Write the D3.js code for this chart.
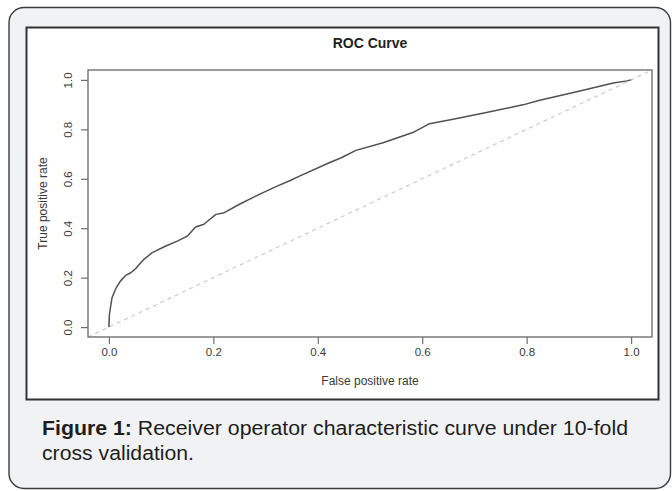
<!DOCTYPE html>
<html>
<head>
<meta charset="utf-8">
<script src="https://cdn.jsdelivr.net/npm/d3@7"></script>
<style>
  html, body { margin: 0; padding: 0; background: #ffffff; }
  svg { display: block; }
</style>
</head>
<body>
<svg id="chart" width="672" height="491"></svg>
<script>
// ---- data ----
const fpr = [0.000, 0.001, 0.006, 0.014, 0.022, 0.032, 0.042, 0.051, 0.067, 0.083, 0.109, 0.131, 0.150, 0.166, 0.182, 0.205, 0.221, 0.250, 0.288, 0.320, 0.345, 0.365, 0.422, 0.445, 0.473, 0.525, 0.582, 0.614, 0.659, 0.723, 0.793, 0.825, 0.902, 0.966, 0.992, 1.000];
const tpr = [0.000, 0.051, 0.119, 0.159, 0.186, 0.209, 0.220, 0.236, 0.274, 0.301, 0.328, 0.348, 0.368, 0.405, 0.416, 0.456, 0.463, 0.497, 0.537, 0.568, 0.591, 0.611, 0.665, 0.685, 0.715, 0.746, 0.787, 0.823, 0.841, 0.868, 0.899, 0.918, 0.955, 0.987, 0.996, 1.000];
const xTickValues = [0, 0.2, 0.4, 0.6, 0.8, 1.0];
const yTickValues = [0, 0.2, 0.4, 0.6, 0.8, 1.0];
const chartTitle = "ROC Curve";
const xLabel = "False positive rate";
const yLabel = "True positive rate";
const captionBold = "Figure 1:";
const captionLine1 = " Receiver operator characteristic curve under 10-fold";
const captionLine2 = "cross validation.";

const svg = d3.select("#chart");
const FONT = "'Liberation Sans', Arial, Helvetica, sans-serif";

// outer rounded panel
svg.append("rect")
  .attr("x", 9).attr("y", 7.5).attr("width", 661.5).attr("height", 481)
  .attr("rx", 15).attr("ry", 15)
  .attr("fill", "#f1f2f4").attr("stroke", "#3c3c3c").attr("stroke-width", 1.4);

// inner figure frame
svg.append("rect")
  .attr("x", 26.5).attr("y", 27.5).attr("width", 632).attr("height", 372)
  .attr("fill", "#ffffff").attr("stroke", "#333333").attr("stroke-width", 2);

// plot region
const box = { left: 88, right: 652, top: 70, bottom: 337 };
const x = d3.scaleLinear().domain([-0.04, 1.04]).range([box.left, box.right]);
const y = d3.scaleLinear().domain([-0.04, 1.04]).range([box.bottom, box.top]);

// clip
svg.append("clipPath").attr("id", "clip")
  .append("rect").attr("x", box.left).attr("y", box.top)
  .attr("width", box.right - box.left).attr("height", box.bottom - box.top);

// diagonal reference line
svg.append("line")
  .attr("clip-path", "url(#clip)")
  .attr("x1", x(-0.04)).attr("y1", y(-0.04))
  .attr("x2", x(1.04)).attr("y2", y(1.04))
  .attr("stroke", "#c9c9c9").attr("stroke-width", 1.2)
  .attr("stroke-dasharray", "4,4");

// ROC curve
const pts = fpr.map((f, i) => [f, tpr[i]]);
svg.append("path")
  .datum(pts)
  .attr("fill", "none")
  .attr("stroke", "#505050")
  .attr("stroke-width", 1.5)
  .attr("stroke-linejoin", "round")
  .attr("d", d3.line().x(d => x(d[0])).y(d => y(d[1])));

// axes
const xAxis = svg.append("g")
  .attr("transform", `translate(0,${box.bottom})`)
  .call(d3.axisBottom(x).tickValues(xTickValues).tickFormat(d3.format(".1f")).tickSize(7).tickPadding(4));
const yAxis = svg.append("g")
  .attr("transform", `translate(${box.left},0)`)
  .call(d3.axisLeft(y).tickValues(yTickValues).tickFormat(d3.format(".1f")).tickSize(7));

[xAxis, yAxis].forEach(g => {
  g.select(".domain").remove();
  g.selectAll(".tick line").attr("stroke", "#6e6e6e").attr("stroke-width", 1.2);
  g.selectAll(".tick text").attr("fill", "#3a3a3a")
    .style("font-family", FONT).style("font-size", "11.5px");
});
yAxis.selectAll(".tick text")
  .attr("x", 0).attr("y", -16).attr("dy", 0)
  .attr("text-anchor", "middle")
  .attr("transform", "rotate(-90)");

// plot box
svg.append("rect")
  .attr("x", box.left).attr("y", box.top)
  .attr("width", box.right - box.left).attr("height", box.bottom - box.top)
  .attr("fill", "none").attr("stroke", "#707070").attr("stroke-width", 1.4);

// title
svg.append("text")
  .attr("x", (box.left + box.right) / 2).attr("y", 48)
  .attr("text-anchor", "middle")
  .style("font-family", FONT).style("font-size", "14px").style("font-weight", "bold")
  .attr("fill", "#222")
  .text(chartTitle);

// axis titles
svg.append("text")
  .attr("x", (box.left + box.right) / 2).attr("y", 385)
  .attr("text-anchor", "middle")
  .style("font-family", FONT).style("font-size", "12px")
  .attr("fill", "#3a3a3a")
  .text(xLabel);
svg.append("text")
  .attr("transform", `translate(47,${(box.top + box.bottom) / 2}) rotate(-90)`)
  .attr("text-anchor", "middle")
  .style("font-family", FONT).style("font-size", "12px")
  .attr("fill", "#3a3a3a")
  .text(yLabel);

// caption
const cap1 = svg.append("text")
  .attr("x", 42).attr("y", 435)
  .style("font-family", FONT).style("font-size", "20px")
  .attr("fill", "#1e1e1e")
  .attr("textLength", 586).attr("lengthAdjust", "spacingAndGlyphs");
cap1.append("tspan").style("font-weight", "bold").text(captionBold);
cap1.append("tspan").text(captionLine1);
svg.append("text")
  .attr("x", 42).attr("y", 460)
  .style("font-family", FONT).style("font-size", "20px")
  .attr("fill", "#1e1e1e")
  .attr("textLength", 152).attr("lengthAdjust", "spacingAndGlyphs")
  .text(captionLine2);
</script>
</body>
</html>
